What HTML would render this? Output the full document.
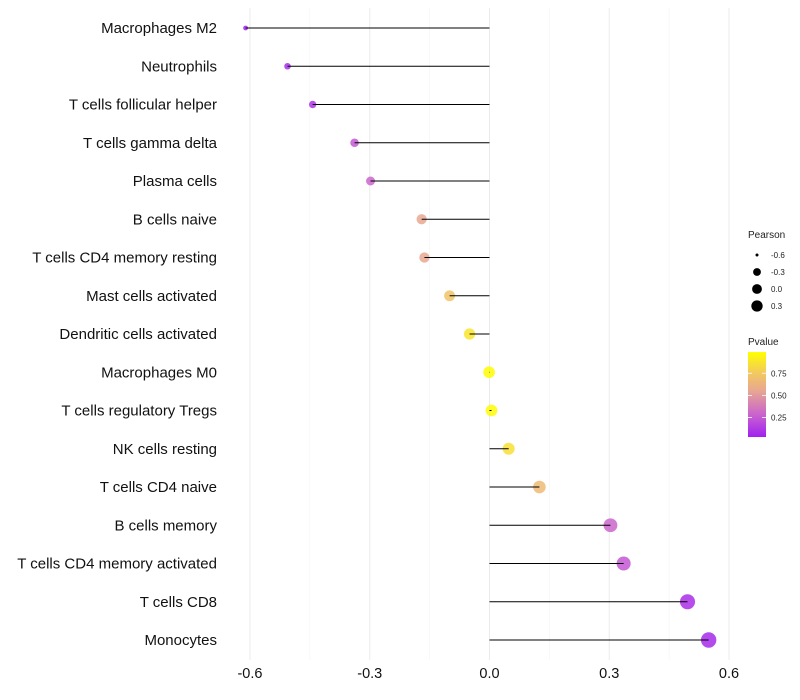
<!DOCTYPE html>
<html><head><meta charset="utf-8"><style>
body{margin:0;background:#fff;font-family:"Liberation Sans",sans-serif}
svg{display:block}
</style></head><body>
<svg id="c" width="800" height="700">
<defs><linearGradient id="pg" x1="0" y1="1" x2="0" y2="0">
<stop offset="0" stop-color="#A020F0"/><stop offset="0.25" stop-color="#C860D0"/><stop offset="0.55" stop-color="#E8A890"/><stop offset="0.75" stop-color="#F2C860"/><stop offset="1" stop-color="#FFFF00"/>
</linearGradient></defs>
</svg>
<script>
const categories=["Macrophages M2","Neutrophils","T cells follicular helper","T cells gamma delta","Plasma cells","B cells naive","T cells CD4 memory resting","Mast cells activated","Dendritic cells activated","Macrophages M0","T cells regulatory  Tregs ","NK cells resting","T cells CD4 naive","B cells memory","T cells CD4 memory activated","T cells CD8","Monocytes"];
const pearson=[-0.611,-0.506,-0.443,-0.338,-0.298,-0.170,-0.163,-0.100,-0.050,-0.001,0.005,0.048,0.125,0.303,0.336,0.496,0.549];
const pvalue=[0.01,0.05,0.08,0.22,0.27,0.55,0.55,0.72,0.88,0.99,0.98,0.86,0.66,0.27,0.22,0.06,0.04];
const xTicks=[-0.6,-0.3,0.0,0.3,0.6];
const xTickLabels=["-0.6","-0.3","0.0","0.3","0.6"];
const sizeLegend=[-0.6,-0.3,0.0,0.3];
const pTicks=[0.25,0.5,0.75];
const NS="http://www.w3.org/2000/svg";
const svg=document.getElementById("c");
const x=v=>489.5+(v)*399.2;
const y=i=>28+i*38.25;
const rr=v=>Math.sqrt(Math.max(2.25,34+46*v));
const stops=[[0,[160,32,240]],[0.25,[200,96,208]],[0.55,[232,168,144]],[0.75,[242,200,96]],[1,[255,255,0]]];
function col(p){for(let k=0;k<stops.length-1;k++){const [a,A]=stops[k],[b,B]=stops[k+1];
 if(p<=b){const t=(p-a)/(b-a);return `rgb(${A.map((c,i)=>Math.round(c+(B[i]-c)*t))})`;}}return "rgb(255,255,0)";}
function mk(t,a,p){const e=document.createElementNS(NS,t);for(const k in a)e.setAttribute(k,a[k]);(p||svg).appendChild(e);return e;}
for(let i=0;i<xTicks.length;i++){
 const g=mk("line",{x1:x(xTicks[i]),x2:x(xTicks[i]),y1:8,y2:660,stroke:"#ebebeb","stroke-width":1});
 
 
 if(i<xTicks.length-1){const m=mk("line",{x1:x((xTicks[i]+xTicks[i+1])/2),x2:x((xTicks[i]+xTicks[i+1])/2),y1:8,y2:660,stroke:"#f3f3f3","stroke-width":0.6});
 
 }
 const t=mk("text",{x:x(xTicks[i]),y:678,"text-anchor":"middle","font-size":14.5,fill:"#111"});
 t.textContent=xTickLabels[i];
 
 
}
categories.forEach((c,i)=>{
 const t=mk("text",{x:217,y:y(i)+5,"text-anchor":"end","font-size":15,fill:"#111","xml:space":"preserve"});
 t.textContent=c;
 
 
 const d=mk("circle",{cx:x(pearson[i]),cy:y(i),r:rr(pearson[i]),fill:col(pvalue[i]),"fill-opacity":0.85});
 
 
 const l=mk("line",{x1:x(0),x2:x(pearson[i]),y1:y(i),y2:y(i),stroke:"#000","stroke-width":1});
 
 
});
const lt=mk("text",{x:748,y:238,"font-size":10,fill:"#222"});lt.textContent="Pearson";


sizeLegend.forEach((v,i)=>{
 const cy=255+i*17;
 const d=mk("circle",{cx:757,cy:cy,r:1.5+Math.sqrt(v+0.6)*4.4,fill:"#000"});
 
 
 const t=mk("text",{x:771,y:cy+3,"font-size":8,fill:"#222"});t.textContent=v.toFixed(1);
 
 
});
const pt=mk("text",{x:748,y:345,"font-size":10,fill:"#222"});pt.textContent="Pvalue";


const bar=mk("rect",{x:748,y:352,width:18,height:85,fill:"url(#pg)"});


const py=p=>437-(p-0.03)/0.96*85;
pTicks.forEach(p=>{
 mk("line",{x1:748,x2:752,y1:py(p),y2:py(p),stroke:"#fff","stroke-width":0.8});
 mk("line",{x1:762,x2:766,y1:py(p),y2:py(p),stroke:"#fff","stroke-width":0.8});
 const t=mk("text",{x:771,y:py(p)+3,"font-size":8,fill:"#222"});t.textContent=p.toFixed(2);
 
 
});
</script>
</body></html>
